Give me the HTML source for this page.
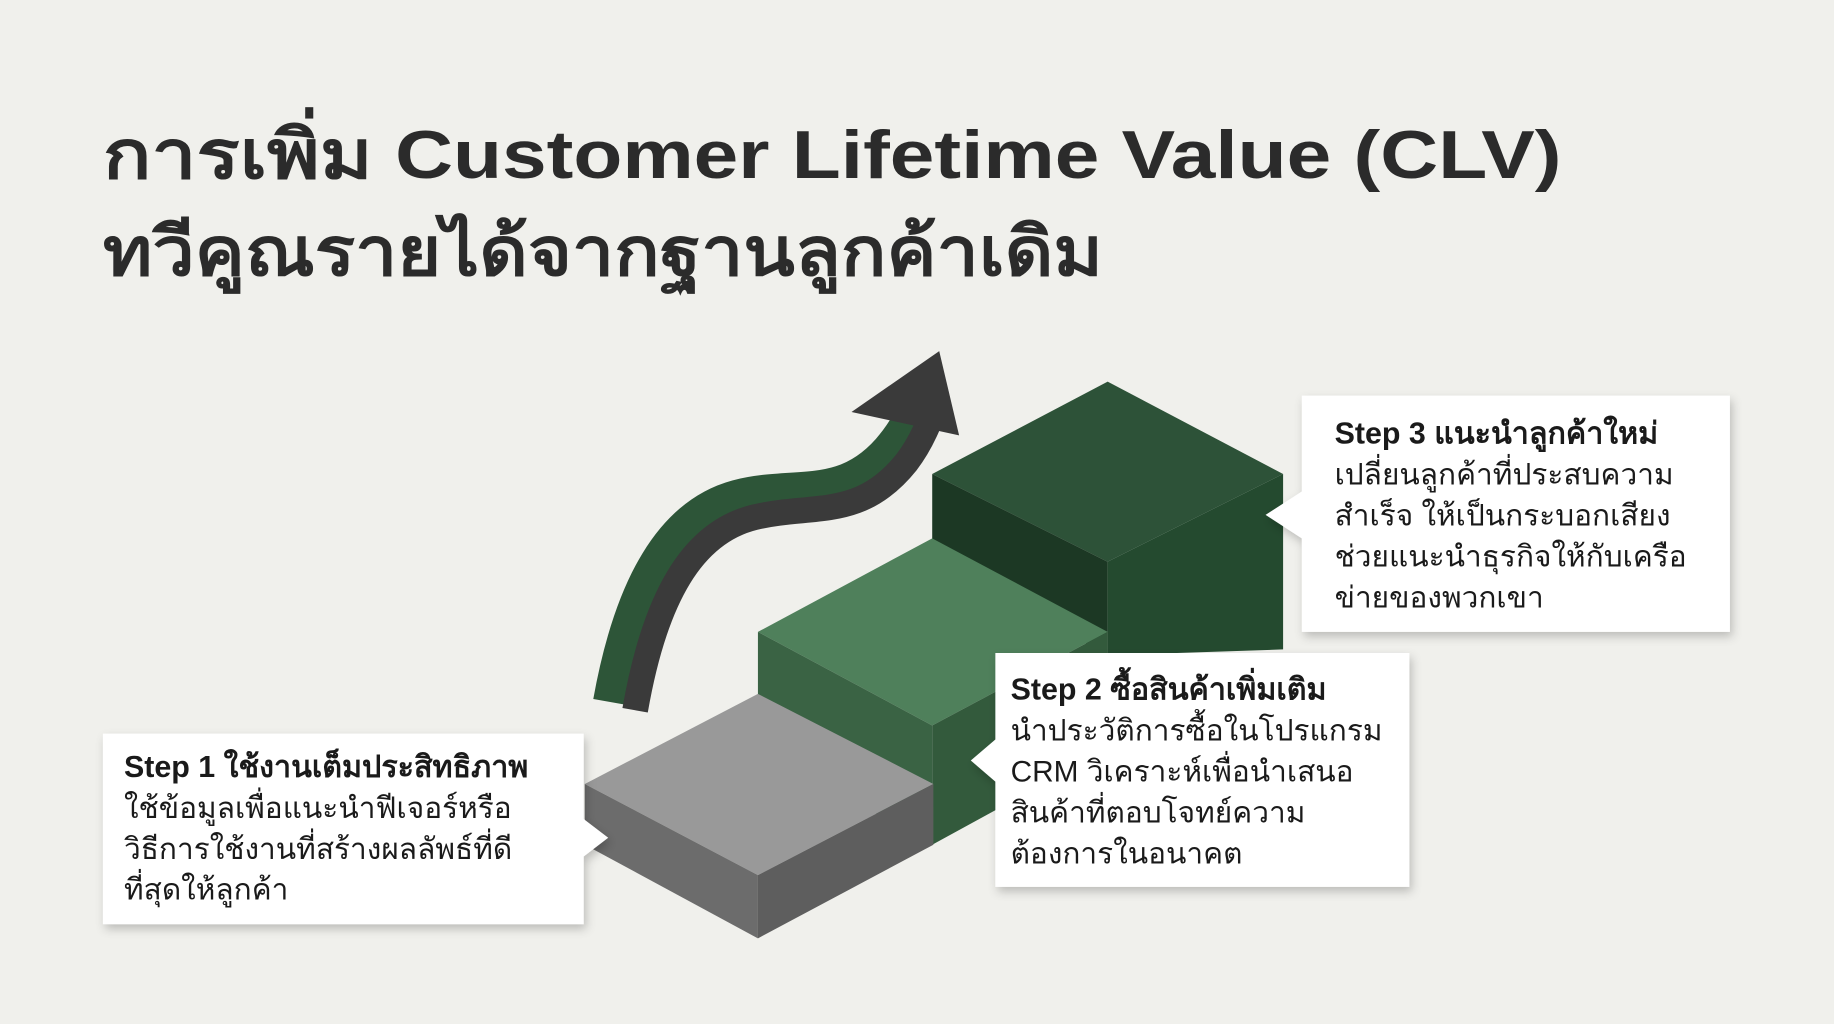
<!DOCTYPE html>
<html><head><meta charset="utf-8"><style>
html,body{margin:0;padding:0;background:#f0f0ec;}
svg{display:block}
text{font-family:"Liberation Sans","DejaVu Sans","Noto Sans CJK SC",sans-serif;}
</style></head><body>
<svg width="1834" height="1024" viewBox="0 0 1568 875" xmlns="http://www.w3.org/2000/svg">
<defs>
<filter id="sh" x="-10%" y="-10%" width="130%" height="130%"><feDropShadow dx="2" dy="4" stdDeviation="4" flood-color="#000" flood-opacity="0.22"/></filter>
</defs>
<rect width="1568" height="875" fill="#f0f0ec"/>
<text x="88" y="152" font-size="58" font-weight="bold" fill="#2b2b2b" textLength="1247" lengthAdjust="spacingAndGlyphs">การเพิ่ม Customer Lifetime Value (CLV)</text>
<text x="88" y="235" font-size="58" font-weight="bold" fill="#2b2b2b" textLength="855" lengthAdjust="spacingAndGlyphs">ทวีคูณรายได้จากฐานลูกค้าเดิม</text>

<!-- arrow -->
<path d="M522 600 C540 500 575 440 630 425 C680 412 720 430 760 385 C775 368 782 352 790 335" fill="none" stroke="#2d5538" stroke-width="30"/>
<path d="M543 607 C560 510 592 455 645 442 C695 430 735 445 775 395 C788 378 795 360 802 340" fill="none" stroke="#3a3a3a" stroke-width="22"/>
<polygon points="803,300 728,352 820,372" fill="#3a3a3a"/>

<!-- step 3 -->
<polygon points="797,405 947,326 1097,405 947,480" fill="#2d5238"/>
<polygon points="797,405 947,480 947,560 797,480" fill="#1c3824"/>
<polygon points="947,480 1097,405 1097,555 947,560" fill="#244a2f"/>
<!-- step 2 -->
<polygon points="648,540 797,460 947,540 797,620" fill="#4f805b"/>
<polygon points="648,540 797,620 797,722 648,640" fill="#3a6344"/>
<polygon points="797,620 947,540 947,640 797,722" fill="#335a3c"/>
<!-- step 1 -->
<polygon points="500,670 648,593 798,670 648,748" fill="#999999"/>
<polygon points="500,670 648,748 648,802 500,722" fill="#6c6c6c"/>
<polygon points="648,748 798,670 798,722 648,802" fill="#5e5e5e"/>

<!-- box 1 -->
<g filter="url(#sh)">
<path d="M88 627 H499 V700 L520 716 L499 732 V790 H88 Z" fill="#fff"/>
</g>
<text font-size="25.5" fill="#1a1a1a">
<tspan x="106" y="664" font-weight="bold" font-size="26">Step 1 ใช้งานเต็มประสิทธิภาพ</tspan>
<tspan x="106" y="699">ใช้ข้อมูลเพื่อแนะนำฟีเจอร์หรือ</tspan>
<tspan x="106" y="734">วิธีการใช้งานที่สร้างผลลัพธ์ที่ดี</tspan>
<tspan x="106" y="769">ที่สุดให้ลูกค้า</tspan>
</text>

<!-- box 2 -->
<g filter="url(#sh)">
<path d="M851 558 H1205 V758 H851 V668 L830 650 L851 632 Z" fill="#fff"/>
</g>
<text font-size="25.5" fill="#1a1a1a">
<tspan x="864" y="598" font-weight="bold" font-size="26">Step 2 ซื้อสินค้าเพิ่มเติม</tspan>
<tspan x="864" y="633">นำประวัติการซื้อในโปรแกรม</tspan>
<tspan x="864" y="668">CRM วิเคราะห์เพื่อนำเสนอ</tspan>
<tspan x="864" y="703">สินค้าที่ตอบโจทย์ความ</tspan>
<tspan x="864" y="738">ต้องการในอนาคต</tspan>
</text>

<!-- box 3 -->
<g filter="url(#sh)">
<path d="M1113 338 H1479 V540 H1113 V460 L1082 440 L1113 420 Z" fill="#fff"/>
</g>
<text font-size="25.5" fill="#1a1a1a">
<tspan x="1141" y="379" font-weight="bold" font-size="26">Step 3 แนะนำลูกค้าใหม่</tspan>
<tspan x="1141" y="414">เปลี่ยนลูกค้าที่ประสบความ</tspan>
<tspan x="1141" y="449">สำเร็จ ให้เป็นกระบอกเสียง</tspan>
<tspan x="1141" y="484">ช่วยแนะนำธุรกิจให้กับเครือ</tspan>
<tspan x="1141" y="519">ข่ายของพวกเขา</tspan>
</text>
</svg>
</body></html>
